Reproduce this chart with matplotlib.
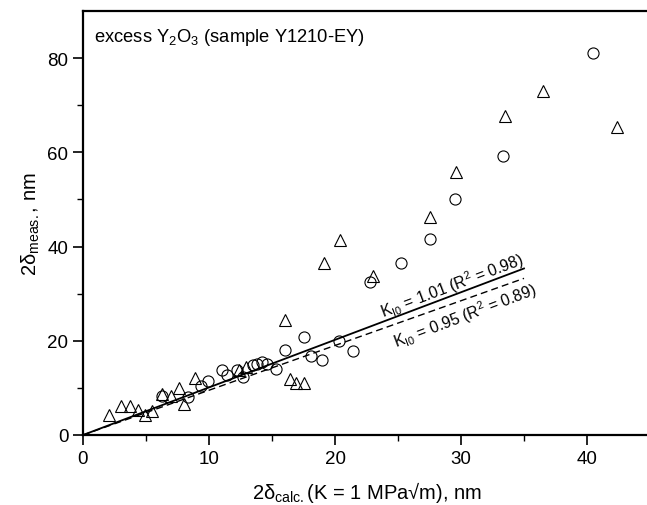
"""
Measured vs calculated crack-opening displacement, excess Y2O3 sample.
"""
import matplotlib
matplotlib.use("Agg")
import matplotlib.pyplot as plt
import numpy as np

plt.rcParams.update({
    "font.family": ["Liberation Sans", "DejaVu Sans"],
    "font.size": 12,
    "mathtext.fontset": "custom",
    "mathtext.rm": "Liberation Sans",
    "mathtext.it": "Liberation Sans",
    "mathtext.default": "regular",
})

# circles
circ_x = [6.3, 8.3, 9.4, 9.9, 11.0, 11.4, 12.2, 12.7, 13.5, 13.8, 14.2, 14.6,
          15.3, 16.0, 17.5, 18.1, 19.0, 20.3, 21.4,
          22.8, 25.2, 27.5, 29.5, 33.3, 40.5]
circ_y = [8.3, 8.1, 10.4, 11.5, 13.8, 12.7, 13.8, 12.3, 14.9, 15.1, 15.5, 15.1,
          14.0, 18.0, 20.8, 16.8, 15.9, 20.0, 17.8,
          32.5, 36.5, 41.5, 50.1, 59.2, 81.1]

# triangles
tri_x = [2.1, 3.0, 3.7, 4.4, 4.9, 5.5, 6.3, 7.0, 7.6, 8.0, 8.9, 12.4, 12.9,
         16.0, 16.4, 16.9, 17.5,
         19.1, 20.4, 23.0, 27.5, 29.6, 33.5, 36.5, 42.4]
tri_y = [4.2, 6.2, 6.2, 5.3, 4.2, 5.1, 8.7, 8.3, 10.0, 6.6, 12.1, 13.8, 14.4,
         24.4, 11.9, 11.0, 11.0,
         36.5, 41.4, 33.8, 46.2, 55.8, 67.7, 73.0, 65.4]

# fits through origin
fit_x = [0, 35]
k_solid = 1.01
k_dash = 0.95

fig = plt.figure(figsize=(6.47, 5.06), dpi=100)
ax = fig.add_axes([83 / 647, 70 / 506, 567 / 647, 424 / 506])

ax.plot(circ_x, circ_y, "o", ms=8, mfc="none", mec="black", mew=0.8, zorder=3)
ax.plot(tri_x, tri_y, "^", ms=9, mfc="none", mec="black", mew=0.8, zorder=3)
ax.plot(fit_x, [k_solid * v for v in fit_x], "-", color="black", lw=1.3)
ax.plot(fit_x, [k_dash * v for v in fit_x], "--", color="black", lw=1.0,
        dashes=(5, 3))

ax.set_xlim(0, 45)
ax.set_ylim(0, 90)
ax.set_xticks([0, 10, 20, 30, 40])
ax.set_xticks([5, 15, 25, 35, 45], minor=True)
ax.set_yticks([0, 20, 40, 60, 80])
ax.set_yticks([10, 30, 50, 70], minor=True)
ax.tick_params(which="major", direction="out", length=7, width=1.2, labelsize=13.5)
ax.tick_params(which="minor", direction="out", length=4, width=1.0)
ax.spines["right"].set_visible(False)
for s in ["left", "top", "bottom"]:
    ax.spines[s].set_linewidth(1.6)

ax.set_xlabel(r"2δ$_{calc.}$(K = 1 MPa√m), nm", fontsize=14.5, labelpad=9)
ax.set_ylabel(r"2δ$_{meas.}$, nm", fontsize=14.5, labelpad=4)

ax.text(0.02, 0.965, r"excess Y$_2$O$_3$ (sample Y1210-EY)", transform=ax.transAxes,
        fontsize=13.2, ha="left", va="top")

ang = 20.7
ax.text(29.3, 31.9, r"K$_{I0}$ = 1.01 (R$^2$ = 0.98)", rotation=ang,
        rotation_mode="anchor", ha="center", va="center", fontsize=11.3)
ax.text(30.3, 25.5, r"K$_{I0}$ = 0.95 (R$^2$ = 0.89)", rotation=ang,
        rotation_mode="anchor", ha="center", va="center", fontsize=11.3)

fig.savefig("out.png", dpi=100)
